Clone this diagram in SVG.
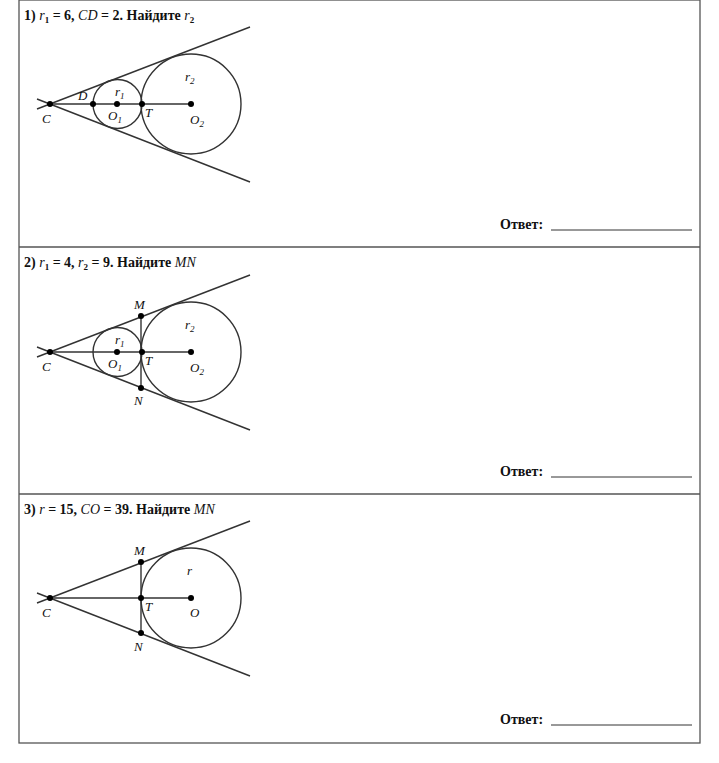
<svg xmlns="http://www.w3.org/2000/svg" width="719" height="763" viewBox="0 0 719 763">
<style>
text{font-family:"Liberation Serif","DejaVu Serif",serif;font-size:14px;fill:#111}
.h{font-weight:bold}
.i{font-style:italic;font-weight:normal}
.l{font-size:13px;font-style:italic}
.s{font-size:9px}
.fr{fill:none;stroke:#555;stroke-width:1.3}
.ln{stroke:#333;stroke-width:1.4;fill:none}
.d{fill:#000}
</style>
<rect width="719" height="763" fill="#fff"/>
<g id="frames">
<rect class="fr" x="19" y="0" width="681" height="743"/>
<line class="fr" x1="19" y1="247" x2="700" y2="247"/>
<line class="fr" x1="19" y1="494" x2="700" y2="494"/>
</g>
<g id="p1">
<text x="24" y="20" class="h">1) <tspan class="i">r</tspan><tspan class="s" dy="3">1</tspan><tspan dy="-3"> = 6, </tspan><tspan class="i">CD</tspan> = 2. Найдите <tspan class="i">r</tspan><tspan class="s" dy="3">2</tspan></text>
<g class="ln"><line x1="37" y1="109" x2="250" y2="27"/><line x1="37" y1="99" x2="250" y2="182"/><line x1="50" y1="104" x2="191" y2="104"/>
<circle cx="117.5" cy="104" r="24.5"/><circle cx="191" cy="104" r="50"/></g>
<g class="d"><circle cx="50" cy="104" r="3"/><circle cx="93" cy="104" r="3"/><circle cx="117" cy="104" r="3"/><circle cx="142" cy="104" r="3"/><circle cx="191" cy="104" r="3"/></g>
<text class="l" x="42" y="123">C</text><text class="l" x="78" y="100">D</text>
<text class="l" x="115" y="96">r<tspan class="s" dy="3">1</tspan></text>
<text class="l" x="108" y="120">O<tspan class="s" dy="3">1</tspan></text>
<text class="l" x="145" y="117">T</text>
<text class="l" x="185" y="81">r<tspan class="s" dy="3">2</tspan></text>
<text class="l" x="190" y="124">O<tspan class="s" dy="3">2</tspan></text>
<text x="500" y="229" class="h">Ответ:</text><line x1="551" y1="230" x2="692" y2="230" stroke="#333"/>
</g>
<g id="p2">
<text x="24" y="267" class="h">2) <tspan class="i">r</tspan><tspan class="s" dy="3">1</tspan><tspan dy="-3"> = 4, </tspan><tspan class="i">r</tspan><tspan class="s" dy="3">2</tspan><tspan dy="-3"> = 9. Найдите </tspan><tspan class="i">MN</tspan></text>
<g class="ln"><line x1="37" y1="357" x2="250" y2="275"/><line x1="37" y1="347" x2="250" y2="430"/><line x1="50" y1="352" x2="191" y2="352"/><line x1="141" y1="316" x2="141" y2="388"/>
<circle cx="117.5" cy="352" r="24.5"/><circle cx="191" cy="352" r="50"/></g>
<g class="d"><circle cx="50" cy="352" r="3"/><circle cx="117" cy="352" r="3"/><circle cx="142" cy="352" r="3"/><circle cx="191" cy="352" r="3"/><circle cx="141" cy="316" r="3"/><circle cx="141" cy="388" r="3"/></g>
<text class="l" x="42" y="371">C</text>
<text class="l" x="134" y="309">M</text><text class="l" x="134" y="405">N</text>
<text class="l" x="115" y="344">r<tspan class="s" dy="3">1</tspan></text>
<text class="l" x="108" y="368">O<tspan class="s" dy="3">1</tspan></text>
<text class="l" x="145" y="365">T</text>
<text class="l" x="185" y="329">r<tspan class="s" dy="3">2</tspan></text>
<text class="l" x="190" y="372">O<tspan class="s" dy="3">2</tspan></text>
<text x="500" y="476" class="h">Ответ:</text><line x1="551" y1="477" x2="692" y2="477" stroke="#333"/>
</g>
<g id="p3">
<text x="24" y="514" class="h">3) <tspan class="i">r</tspan> = 15, <tspan class="i">CO</tspan> = 39. Найдите <tspan class="i">MN</tspan></text>
<g class="ln"><line x1="37" y1="603" x2="250" y2="521"/><line x1="37" y1="593" x2="250" y2="676"/><line x1="50" y1="598" x2="191" y2="598"/><line x1="141" y1="562" x2="141" y2="633"/>
<circle cx="191" cy="598" r="50"/></g>
<g class="d"><circle cx="50" cy="598" r="3"/><circle cx="141" cy="598" r="3"/><circle cx="191" cy="598" r="3"/><circle cx="141" cy="562" r="3"/><circle cx="141" cy="633" r="3"/></g>
<text class="l" x="42" y="617">C</text>
<text class="l" x="134" y="555">M</text><text class="l" x="134" y="651">N</text>
<text class="l" x="145" y="611">T</text>
<text class="l" x="187" y="575">r</text>
<text class="l" x="190" y="617">O</text>
<text x="500" y="724" class="h">Ответ:</text><line x1="551" y1="725" x2="692" y2="725" stroke="#333"/>
</g>
</svg>
